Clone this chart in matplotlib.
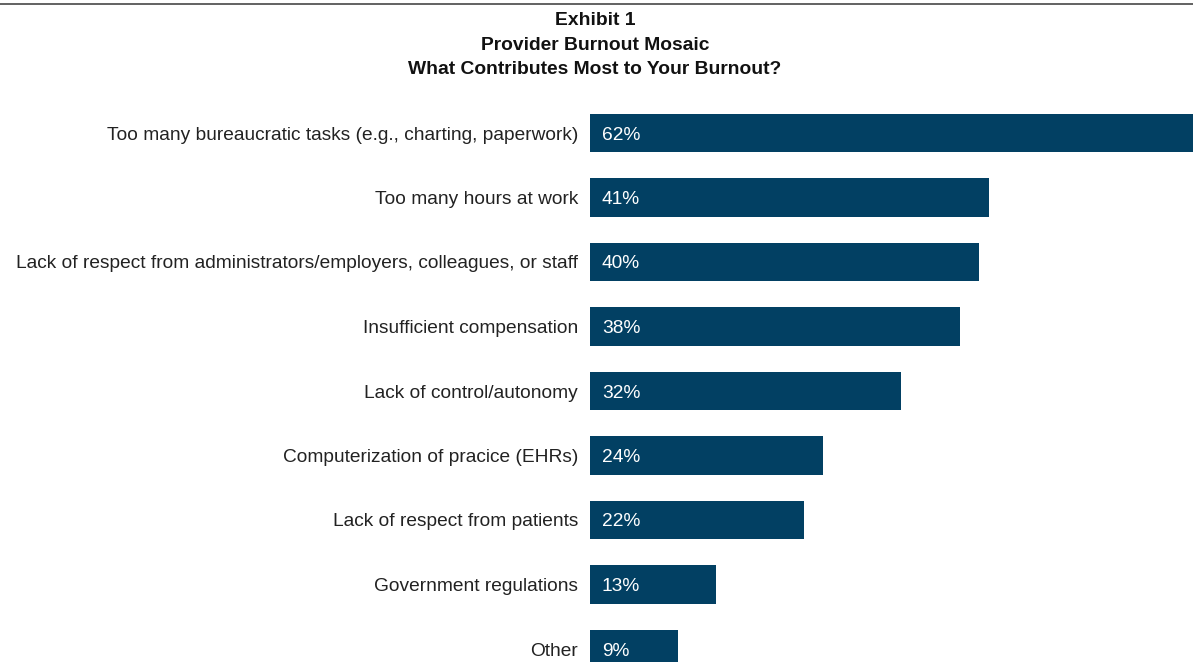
import matplotlib.pyplot as plt
from matplotlib.lines import Line2D

plt.rcParams['font.family'] = ['Liberation Sans', 'DejaVu Sans']

categories = [
    "Too many bureaucratic tasks (e.g., charting, paperwork)",
    "Too many hours at work",
    "Lack of respect from administrators/employers, colleagues, or staff",
    "Insufficient compensation",
    "Lack of control/autonomy",
    "Computerization of pracice (EHRs)",
    "Lack of respect from patients",
    "Government regulations",
    "Other",
]
values = [62, 41, 40, 38, 32, 24, 22, 13, 9]
value_labels = [f"{v}%" for v in values]
title_lines = ["Exhibit 1", "Provider Burnout Mosaic",
               "What Contributes Most to Your Burnout?"]

bar_color = "#024063"
W, H = 1193, 662

fig = plt.figure(figsize=(W / 100, H / 100), dpi=100)
ax = fig.add_axes([590 / W, 0, 603 / W, 1])

ypos = list(range(len(categories)))
ax.barh(ypos, values, height=0.59, color=bar_color)

ax.set_xlim(0, 62)
ax.set_ylim(8 + 13 / 64.5, -133 / 64.5)
ax.set_yticks(ypos)
ax.set_yticklabels(categories, fontsize=13.8, color="#222222")
ax.tick_params(axis="y", length=0, pad=8.6)
ax.set_xticks([])
for s in ax.spines.values():
    s.set_visible(False)

for y, v, lab in zip(ypos, values, value_labels):
    ax.annotate(lab, xy=(0, y), xytext=(8.6, 0), textcoords="offset points",
                ha="left", va="center_baseline", color="white", fontsize=13.8)

for line, base in zip(title_lines, [25, 50, 74.5]):
    fig.text(595 / W, 1 - base / H, line, ha="center", va="baseline",
             fontsize=13.85, fontweight="bold", color="#111111")

fig.add_artist(Line2D([0, 1], [1 - 3.5 / H, 1 - 3.5 / H],
                      transform=fig.transFigure, color="#555555", linewidth=1.3))

fig.savefig("out.png", dpi=100)
